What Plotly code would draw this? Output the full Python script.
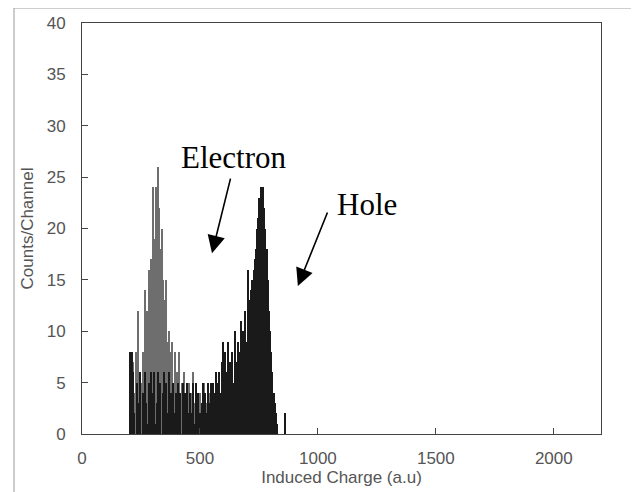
import plotly.graph_objects as go

# channel start positions (a.u.), bin width 5
bin_width = 5
black_start = 200
black_counts = [
    8, 0, 8, 6, 2, 0, 5, 3, 1, 6,
    0, 4, 2, 6, 3, 1, 5, 0, 6, 2,
    4, 6, 1, 3, 6, 2, 5, 0, 4, 6,
    3, 5, 2, 6, 1, 4, 3, 5, 2, 4,
    1, 5, 1, 4, 0, 5, 2, 4, 1, 5,
    2, 4, 1, 2, 5, 1, 5, 2, 4, 1,
    2, 3, 5, 1, 4, 2, 5, 3, 1, 5,
    3, 5, 4, 6, 3, 5, 6, 4, 7, 9,
    5, 8, 6, 9, 4, 7, 6, 8, 5, 10,
    7, 6, 9, 8, 11, 7, 10, 8, 12, 9,
    16, 11, 13, 14, 15, 16, 17, 18, 20, 21,
    23, 24, 24, 24, 22, 20, 18, 15, 12, 10,
    8, 6, 4, 3, 2, 1, 0, 0, 0, 0,
    0, 0, 2,
]
gray_start = 200
gray_counts = [
    8, 5, 2, 7, 4, 8, 3, 12, 4, 6,
    5, 8, 6, 14, 9, 12, 16, 13, 17, 15,
    24, 19, 24, 21, 26, 22, 18, 20, 15, 13,
    11, 15, 9, 10, 8, 6, 9, 5, 8, 4,
    6, 3, 8, 4, 5, 2, 6, 3, 4, 2,
    5, 3, 2, 4, 6, 3, 2, 4, 3, 2,
    4, 2, 3, 5, 2, 3, 1, 4, 2, 3,
    2, 3, 1, 4, 2, 3, 5, 2, 3, 1,
    3, 2, 4, 1, 3, 2, 5, 2, 3, 1,
    2, 0,
]

x_ticks = [0, 500, 1000, 1500, 2000]
y_ticks = [0, 5, 10, 15, 20, 25, 30, 35, 40]

black_x = [black_start + i * bin_width + bin_width / 2 for i in range(len(black_counts))]
gray_x = [gray_start + i * bin_width + bin_width / 2 for i in range(len(gray_counts))]

fig = go.Figure()
fig.add_trace(go.Bar(x=gray_x, y=gray_counts, width=bin_width,
                     marker=dict(color="#6e6e6e", line=dict(width=0)), name="Electron"))
fig.add_trace(go.Bar(x=black_x, y=black_counts, width=bin_width,
                     marker=dict(color="#1a1a1a", line=dict(width=0)), name="Hole"))

tick_font = dict(family="Liberation Sans", size=17, color="#555555")

fig.update_layout(
    width=639, height=492,
    margin=dict(l=74, r=46, t=15, b=66),
    paper_bgcolor="white", plot_bgcolor="white",
    barmode="overlay", bargap=0, showlegend=False,
    xaxis=dict(range=[0, 2200], tickvals=x_ticks, ticks="inside", ticklen=6,
               tickcolor="#444", showgrid=False, zeroline=False, automargin=False,
               showline=True, linecolor="#444", linewidth=1, mirror=True,
               tickfont=tick_font, ticklabelstandoff=9,
               title=dict(text="Induced Charge (a.u)", font=tick_font, standoff=2)),
    yaxis=dict(range=[0, 40], tickvals=y_ticks, ticks="inside", ticklen=6,
               tickcolor="#444", showgrid=False, zeroline=False, automargin=False,
               showline=True, linecolor="#444", linewidth=1, mirror=True,
               tickfont=tick_font, ticklabelstandoff=12,
               title=dict(text="Counts/Channel", font=tick_font, standoff=8)),
    font=dict(family="Liberation Sans"),
)

serif = dict(family="Liberation Serif", size=31, color="black")
fig.add_annotation(x=644, y=26.9, xref="x", yref="y", text="Electron",
                   showarrow=False, font=serif)
fig.add_annotation(x=1208, y=22.3, xref="x", yref="y", text="Hole",
                   showarrow=False, font=serif)
fig.add_annotation(x=551, y=17.6, ax=631, ay=25.0, xref="x", yref="y",
                   axref="x", ayref="y", text="", showarrow=True,
                   arrowhead=2, arrowsize=2.2, arrowwidth=1.6, arrowcolor="black")
fig.add_annotation(x=915, y=14.4, ax=1043, ay=21.7, xref="x", yref="y",
                   axref="x", ayref="y", text="", showarrow=True,
                   arrowhead=2, arrowsize=2.2, arrowwidth=1.6, arrowcolor="black")

fig.add_shape(type="rect", xref="paper", yref="paper",
              x0=-0.131, x1=1.0597, y0=-0.3, y1=1.0365,
              line=dict(color="#999999", width=1), layer="below")

fig.write_html("out.html")
